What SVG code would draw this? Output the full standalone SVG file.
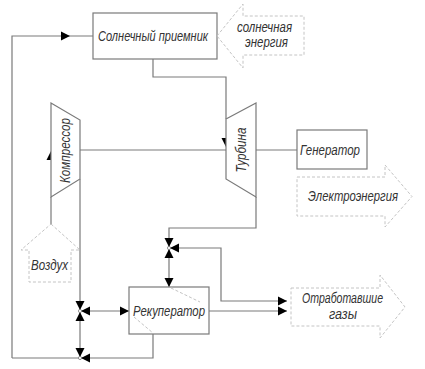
<svg xmlns="http://www.w3.org/2000/svg" xmlns:xlink="http://www.w3.org/1999/xlink" width="425" height="369" viewBox="0 0 425 369">
<style>
.ln{fill:none;stroke:#7a7a7a;stroke-width:1.2}
.box{fill:#fff;stroke:#7a7a7a;stroke-width:1.2}
.dash{fill:none;stroke:#c4c4c4;stroke-width:1;stroke-dasharray:3 2}
.tx{font-family:"Liberation Sans",Arial,sans-serif;font-style:italic;font-size:14px;fill:#333;text-anchor:middle}
.ar{fill:#000}
.dot{fill:#fff;stroke:#7a7a7a;stroke-width:0.8}
</style>
<defs>
<path id="tri" d="M0,0 L-9,-4.5 L-9,4.5 Z"/>
</defs>
<rect width="425" height="369" fill="#fff"/>
<g id="connectors">
<path class="ln" d="M12,358 V36 H93"/>
<path class="ln" d="M153,59 V77 H226 V119"/>
<path class="ln" d="M256,197 V228 H169 V287"/>
<path class="ln" d="M169,248 H221 V301 H287"/>
<path class="ln" d="M209,311 H287"/>
<path class="ln" d="M80,150 H226"/>
<path class="ln" d="M256,150 H297"/>
<path class="ln" d="M51,197 V224"/>
<path class="ln" d="M80,179 V358"/>
<path class="ln" d="M80,311 H129"/>
<path class="ln" d="M153,334 V358 H12"/>
<use href="#tri" class="ar" transform="translate(70,36)"/>
<use href="#tri" class="ar" transform="translate(226,147) rotate(90)"/>
<use href="#tri" class="ar" transform="translate(51,151) rotate(-90)"/>
<use href="#tri" class="ar" transform="translate(169,247) rotate(90)"/>
<use href="#tri" class="ar" transform="translate(170,248) rotate(180)"/>
<use href="#tri" class="ar" transform="translate(169,249) rotate(-90)"/>
<use href="#tri" class="ar" transform="translate(169,287) rotate(90)"/>
<use href="#tri" class="ar" transform="translate(80,310) rotate(90)"/>
<use href="#tri" class="ar" transform="translate(81,311) rotate(180)"/>
<use href="#tri" class="ar" transform="translate(80,312) rotate(-90)"/>
<use href="#tri" class="ar" transform="translate(129,311)"/>
<use href="#tri" class="ar" transform="translate(80,357) rotate(90)"/>
<use href="#tri" class="ar" transform="translate(81,358) rotate(180)"/>
<use href="#tri" class="ar" transform="translate(287,301)"/>
<use href="#tri" class="ar" transform="translate(287,311)"/>
<circle class="dot" cx="169" cy="248" r="1.6"/>
<circle class="dot" cx="80" cy="311" r="1.6"/>
<circle class="dot" cx="80" cy="358" r="1.6"/>
</g>
<g id="receiver">
<rect class="box" x="93" y="13" width="124" height="46"/>
<text class="tx" x="153" y="41" textLength="110" lengthAdjust="spacingAndGlyphs">Солнечный приемник</text>
</g>
<g id="solar-energy">
<path class="dash" d="M217,36 L243,4 V16 H304 V55 H243 V68 Z"/>
<text class="tx" x="264.5" y="32" textLength="55" lengthAdjust="spacingAndGlyphs">солнечная</text>
<text class="tx" x="266.5" y="47" textLength="43" lengthAdjust="spacingAndGlyphs">энергия</text>
</g>
<g id="compressor">
<path class="box" d="M51,103 L80,120 V179 L51,197 Z"/>
<text class="tx" transform="translate(70,150.5) rotate(-90)" textLength="65" lengthAdjust="spacingAndGlyphs">Компрессор</text>
</g>
<g id="turbine">
<path class="box" d="M226,119 L256,103 V197 L226,179 Z"/>
<text class="tx" transform="translate(245.5,150) rotate(-90)" textLength="45" lengthAdjust="spacingAndGlyphs">Турбина</text>
</g>
<g id="generator">
<rect class="box" x="297" y="130" width="70" height="39"/>
<text class="tx" x="330" y="155" textLength="60" lengthAdjust="spacingAndGlyphs">Генератор</text>
</g>
<g id="electro">
<path class="dash" d="M297,177 H385 V165 L412,196.5 L385,227 V216 H297 Z"/>
<text class="tx" x="353" y="201" textLength="90" lengthAdjust="spacingAndGlyphs">Электроэнергия</text>
</g>
<g id="air">
<path class="dash" d="M51,224 L80,250 H71 V282 H29 V250 H21 Z"/>
<text class="tx" x="49.5" y="270" textLength="37" lengthAdjust="spacingAndGlyphs">Воздух</text>
</g>
<g id="recuperator">
<rect class="box" x="129" y="287" width="80" height="47"/>
<path class="dash" d="M171,288 L200,302 M134,317 L153,333"/>
<text class="tx" x="169" y="316" textLength="72" lengthAdjust="spacingAndGlyphs">Рекуператор</text>
</g>
<g id="exhaust">
<path class="dash" d="M291,288 H380 V275 L405,307 L380,338 V326 H291 Z"/>
<text class="tx" x="342.5" y="303" textLength="81" lengthAdjust="spacingAndGlyphs">Отработавшие</text>
<text class="tx" x="343" y="319" textLength="28" lengthAdjust="spacingAndGlyphs">газы</text>
</g>
</svg>
